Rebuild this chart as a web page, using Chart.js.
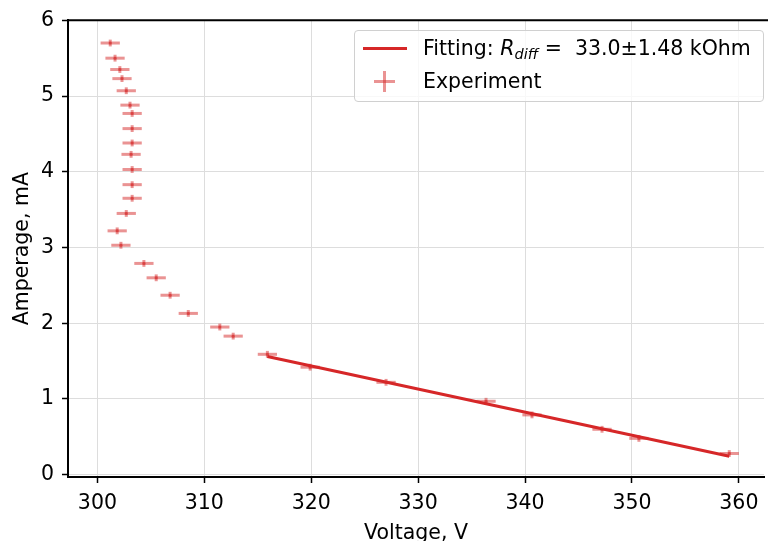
<!DOCTYPE html>
<html>
<head>
<meta charset="utf-8">
<script src="https://cdn.jsdelivr.net/npm/chart.js@4.4.1/dist/chart.umd.min.js"></script>
<style>
  body { margin: 0; background: #fff; }
  #wrap { position: relative; width: 768px; height: 541px; overflow: hidden; }
  #legend {
    position: absolute; left: 354px; top: 30px; width: 408px; height: 70px;
    border: 1.5px solid #d0d0d0; border-radius: 4px; background: rgba(255,255,255,0.8);
    font-family: "DejaVu Sans"; font-size: 20.5px; color: #000;
  }
  #legend .txt { position: absolute; left: 68px; line-height: 24px; white-space: pre; }
  #legend .line { position: absolute; left: 8px; top: 16px; width: 44px; height: 3px; background: #d62728; }
  #legend .ph { position: absolute; left: 19px; top: 49px; width: 21px; height: 3px; background: rgba(214,39,40,0.5); }
  #legend .pv { position: absolute; left: 28px; top: 40px; width: 3px; height: 21px; background: rgba(214,39,40,0.5); }
  #legend sub { font-size: 14.5px; font-style: italic; vertical-align: -4px; line-height: 0; }
</style>
</head>
<body>
<div id="wrap">
  <canvas id="myChart" width="768" height="541"></canvas>
  <div id="legend">
    <span class="line"></span>
    <span class="txt" style="top:5px">Fitting: <i>R</i><sub>diff</sub> =  33.0±1.48 kOhm</span>
    <span class="ph"></span><span class="pv"></span>
    <span class="txt" style="top:38px">Experiment</span>
  </div>
</div>
<script>
// measured points
var voltage = [301.2, 301.65, 302.1, 302.3, 302.7, 303.05, 303.25, 303.25, 303.25, 303.15,
               303.25, 303.25, 303.25, 302.7, 301.85, 302.2, 304.35, 305.5, 306.8, 308.5,
               311.45, 312.7, 315.9, 319.9, 327.0, 336.35, 340.65, 347.2, 350.65, 359.1];
var current = [5.70, 5.50, 5.35, 5.23, 5.07, 4.88, 4.77, 4.57, 4.38, 4.23,
               4.03, 3.83, 3.65, 3.45, 3.22, 3.03, 2.79, 2.60, 2.37, 2.13,
               1.95, 1.83, 1.59, 1.42, 1.22, 0.97, 0.79, 0.60, 0.48, 0.28];
var voltageErr = 0.9;
var currentErr = 0.045;

// fitted line ends
var fitVoltage = [315.9, 359.1];
var fitCurrent = [1.56, 0.245];

var xTicks = [300, 310, 320, 330, 340, 350, 360];
var yTicks = [0, 1, 2, 3, 4, 5, 6];

var errorBars = {
  id: 'errorBars',
  beforeDatasetsDraw: function(chart) {
    var ctx = chart.ctx, x = chart.scales.x, y = chart.scales.y;
    ctx.save();
    ctx.strokeStyle = 'rgba(214,39,40,0.5)';
    ctx.lineWidth = 3;
    for (var i = 0; i < voltage.length; i++) {
      var px = x.getPixelForValue(voltage[i]);
      var py = y.getPixelForValue(current[i]);
      ctx.beginPath();
      ctx.moveTo(x.getPixelForValue(voltage[i] - voltageErr), py);
      ctx.lineTo(x.getPixelForValue(voltage[i] + voltageErr), py);
      ctx.stroke();
      ctx.beginPath();
      ctx.moveTo(px, y.getPixelForValue(current[i] - currentErr));
      ctx.lineTo(px, y.getPixelForValue(current[i] + currentErr));
      ctx.stroke();
    }
    ctx.restore();
  }
};

// matplotlib-like top spine, running off the right edge
var topSpine = {
  id: 'topSpine',
  afterDraw: function(chart) {
    var ctx = chart.ctx, a = chart.chartArea;
    ctx.save();
    ctx.strokeStyle = '#000';
    ctx.lineWidth = 2;
    ctx.beginPath();
    ctx.moveTo(a.left - 1, a.top);
    ctx.lineTo(chart.width, a.top);
    ctx.stroke();
    ctx.restore();
  }
};

Chart.defaults.font.family = 'DejaVu Sans';
Chart.defaults.font.size = 20.5;
Chart.defaults.color = '#000';

var ctx = document.getElementById('myChart').getContext('2d');
var chart = new Chart(ctx, {
  type: 'scatter',
  data: {
    datasets: [{
      label: 'Fitting',
      data: fitVoltage.map(function(v, i) { return {x: v, y: fitCurrent[i]}; }),
      showLine: true,
      borderColor: '#d62728',
      borderWidth: 3,
      pointRadius: 0
    }, {
      label: 'Experiment',
      data: voltage.map(function(v, i) { return {x: v, y: current[i]}; }),
      pointRadius: 1.5,
      pointBorderWidth: 0,
      backgroundColor: 'rgba(214,39,40,0.5)'
    }]
  },
  plugins: [errorBars, topSpine],
  options: {
    responsive: false,
    animation: false,
    layout: { padding: { top: 20, right: 0, bottom: 0, left: 0 } },
    plugins: { legend: { display: false }, tooltip: { enabled: false } },
    scales: {
      x: {
        type: 'linear', min: 297.25, max: 362.35,
        afterBuildTicks: function(s) { s.ticks = xTicks.map(function(v) { return {value: v}; }); },
        afterFit: function(s) { s.height = 64; },
        ticks: { padding: 8, callback: function(v) { return v; } },
        grid: { color: '#dddddd', lineWidth: 1, tickColor: '#000', tickLength: 6, tickWidth: 1.5 },
        border: { color: '#000', width: 2 },
        title: { display: true, text: 'Voltage, V', padding: { top: 0, bottom: -5 } }
      },
      y: {
        type: 'linear', min: -0.03, max: 6,
        afterBuildTicks: function(s) { s.ticks = yTicks.map(function(v) { return {value: v}; }); },
        afterFit: function(s) { s.width = 68; },
        ticks: { padding: 8, callback: function(v) { return v; } },
        grid: { color: '#dddddd', lineWidth: 1, tickColor: '#000', tickLength: 6, tickWidth: 1.5 },
        border: { color: '#000', width: 2 },
        title: { display: true, text: 'Amperage, mA', padding: { top: 10, bottom: 0 } }
      }
    }
  }
});
</script>
</body>
</html>
